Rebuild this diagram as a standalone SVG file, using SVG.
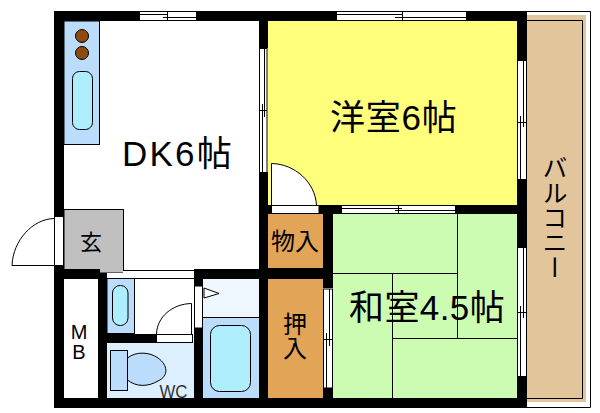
<svg xmlns="http://www.w3.org/2000/svg" width="600" height="413" viewBox="0 0 600 413">
<style>
text{font-family:"Liberation Sans","Noto Sans CJK JP",sans-serif;fill:#000}
.big{font-size:35px}
.mid{font-size:24px}
.w{fill:#000}
.o{stroke:#000;stroke-width:1;fill:none}
.win{fill:#fff;stroke:#000;stroke-width:1}
.blue{fill:#bbdcfb;stroke:#000;stroke-width:1}
.sink{fill:#aeeefc;stroke:#000;stroke-width:1}
.closet{fill:#e2a558}
</style>
<rect width="600" height="413" fill="#fff"/>
<g id="balcony">
<path d="M527 11.500H590.500V407.500H527" fill="#fff" stroke="#000"/>
<rect x="527" y="15" width="59" height="387" fill="#e3c59c"/>
<path class="o" d="M527 20.500H582.500V398.500H527"/>
<text x="553" y="155" font-size="25" writing-mode="vertical-rl">バルコニー</text>
</g>
<g id="room-dk">
<rect x="64" y="21" width="195" height="248" fill="#fff"/>
<text x="122" y="166" class="big" letter-spacing="2.200">DK6帖</text>
</g>
<g id="kitchen">
<rect class="blue" x="64" y="21" width="35.500" height="123.500"/>
<circle cx="82" cy="36" r="6.500" fill="#8f4a10" stroke="#000"/>
<circle cx="82" cy="53" r="6.500" fill="#8f4a10" stroke="#000"/>
<rect class="sink" x="72.500" y="71.500" width="20" height="58" rx="7"/>
</g>
<g id="room-western">
<rect x="268" y="21" width="249" height="184" fill="#ffff7c"/>
<text x="330" y="130" class="big" letter-spacing="0.800">洋室6帖</text>
</g>
<g id="room-japanese">
<rect x="333" y="214" width="184" height="184" fill="#ccfbb2"/>
<path class="o" d="M333 273.500H457.500M457.500 214V338.500M392.500 338.500H517M392.500 273V398"/>
<text x="349" y="320" class="big" letter-spacing="0.400">和室4.5帖</text>
</g>
<g id="entry">
<rect x="64" y="209.500" width="59.500" height="63.500" fill="#c0c0c0" stroke="#000"/>
<text x="80" y="250" font-size="22">玄</text>
</g>
<g id="storage-1">
<rect class="closet" x="268" y="214" width="55" height="55"/>
<text x="271" y="250" class="mid">物入</text>
</g>
<g id="storage-2">
<rect class="closet" x="268" y="279" width="55" height="119"/>
<text x="293" y="312" class="mid" writing-mode="vertical-rl">押入</text>
</g>
<g id="mb">
<rect x="64" y="279" width="34" height="119" fill="#fff"/>
<text x="79" y="339" font-size="20" text-anchor="middle">M</text>
<text x="79" y="359" font-size="20" text-anchor="middle">B</text>
</g>
<g id="washroom">
<rect x="107" y="273" width="87" height="61" fill="#fff"/>
<rect x="123" y="270" width="71" height="4" fill="#fff"/>
<path class="o" d="M123 270.500H194M107 278.500H194"/>
<rect class="blue" x="107" y="278.500" width="27.500" height="55"/>
<rect class="sink" x="112.500" y="285.500" width="15.500" height="40" rx="7.500"/>
</g>
<g id="wc">
<rect x="107" y="343" width="87" height="55" fill="#dcefff"/>
<rect class="blue" x="110.500" y="350.500" width="17" height="40"/>
<path class="blue" d="M127.500 358C136 351 150 352 158 358C168 365 169 376 158 381C148 387 136 387 127.500 380Z"/>
<text x="159.500" y="397.500" font-size="18" textLength="28" lengthAdjust="spacingAndGlyphs" style="fill:#333">WC</text>
</g>
<g id="bath">
<rect x="203" y="279" width="56" height="38" fill="#eef6ff"/>
<rect x="203" y="317.500" width="56" height="80.500" fill="#bbdcfb"/>
<path class="o" d="M203 317.500H259"/>
<rect class="sink" x="210.500" y="325.500" width="40" height="66" rx="9"/>
<path d="M204 288L219 293.500L204 298Z" fill="#fff" stroke="#000"/>
</g>
<g id="walls">
<path class="w" d="M54 11H139V21H64V216H54Z"/>
<path class="w" d="M196 11H336V21H196Z"/>
<path class="w" d="M466 11H527V60H517V21H466Z"/>
<rect class="w" x="54" y="398" width="473" height="10"/>
<rect class="w" x="54" y="266" width="10" height="132"/>
<path class="w" d="M54 266H64V269H100V279H54Z"/>
<rect class="w" x="98" y="273" width="9" height="125"/>
<rect class="w" x="107" y="334" width="49" height="9"/>
<rect class="w" x="194" y="270" width="9" height="16"/>
<rect class="w" x="194" y="328" width="9" height="70"/>
<rect class="w" x="194" y="269" width="73" height="10"/>
<rect class="w" x="259" y="21" width="9" height="27"/>
<rect class="w" x="259" y="172" width="9" height="226"/>
<rect class="w" x="259" y="268" width="74" height="11"/>
<rect class="w" x="323" y="205" width="10" height="83"/>
<rect class="w" x="319" y="205" width="22" height="9"/>
<rect class="w" x="455" y="205" width="72" height="9"/>
<rect class="w" x="323" y="388" width="10" height="10"/>
<rect class="w" x="517" y="180" width="10" height="67"/>
<rect class="w" x="517" y="377" width="10" height="21"/>
<rect class="w" x="259" y="205" width="12" height="9"/>
</g>
<g id="openings">
<rect class="win" x="139.500" y="11.500" width="57" height="9"/>
<path class="o" d="M139.500 14.500H168M167.500 12V20M163 17.500H196.500"/>
<rect class="win" x="336.500" y="11.500" width="130" height="9"/>
<path class="o" d="M336.500 14.500H403M402.500 12V20M395 17.500H466.500"/>
<rect class="win" x="259.500" y="48.500" width="7.500" height="124"/>
<path class="o" d="M264.500 48.500V117M260 110.500H267M262.500 104V172"/>
<rect class="win" x="517.500" y="60.500" width="9" height="119"/>
<path class="o" d="M523.500 60.500V127M518 122.500H526M520.500 116V179.500"/>
<rect class="win" x="517.500" y="247.500" width="9" height="129"/>
<path class="o" d="M523.500 247.500V318M518 312.500H526M520.500 306V376.500"/>
<rect class="win" x="323.500" y="289" width="9" height="99"/>
<path class="o" d="M329.500 289V346M324 339.500H332M326.500 333V388"/>
<rect class="win" x="341.500" y="205.500" width="114" height="8"/>
<path class="o" d="M341.500 208.500H402M398.500 206V213M395 210.500H455.500"/>
<rect class="win" x="54.500" y="216.500" width="9" height="49"/>
<path d="M54 218.500C33 219 13 240 12 265.500H54" fill="none" stroke="#000"/>
<rect class="win" x="194.500" y="286" width="8" height="42"/>
<rect class="win" x="156.500" y="334.500" width="36" height="8"/>
<path d="M191.500 335V303.500C172 304 157 317 156.500 334" fill="none" stroke="#000"/>
<path d="M271.500 205V163.500C295 164 315 182 316.500 205" fill="#fff" stroke="#000"/>
<rect class="win" x="271.500" y="205.500" width="47.500" height="8"/>
</g>
</svg>
